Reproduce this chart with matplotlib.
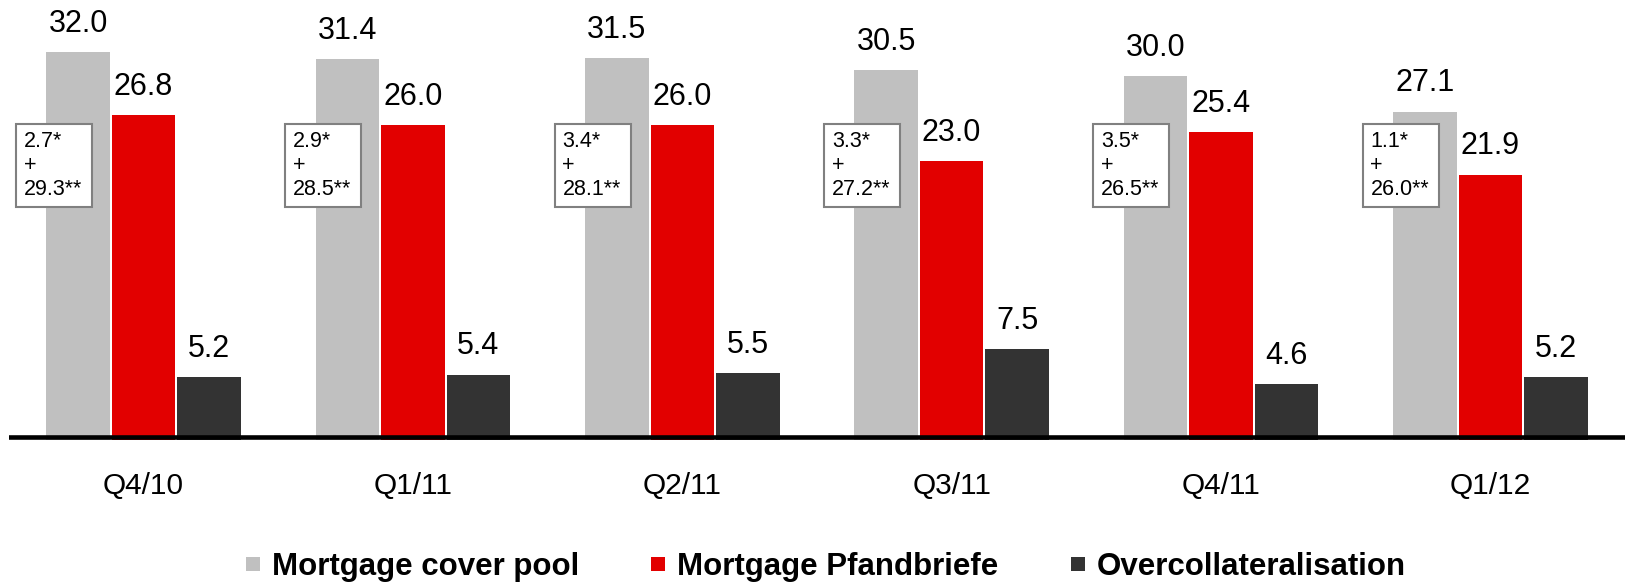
#!/usr/bin/env python3
''' mortgage cover pool vs pfandbriefe, grouped bars '''

import matplotlib
matplotlib.use('Agg')
import matplotlib.pyplot as plt
from matplotlib.lines import Line2D
from matplotlib.patches import Rectangle
import numpy as np

plt.rcParams['font.family'] = ['Liberation Sans', 'DejaVu Sans']

quarters = ['Q4/10', 'Q1/11', 'Q2/11', 'Q3/11', 'Q4/11', 'Q1/12']
cover_pool = [32.0, 31.4, 31.5, 30.5, 30.0, 27.1]
pfandbriefe = [26.8, 26.0, 26.0, 23.0, 25.4, 21.9]
overcoll = [5.2, 5.4, 5.5, 7.5, 4.6, 5.2]
pool_star = [2.7, 2.9, 3.4, 3.3, 3.5, 1.1]
pool_dstar = [29.3, 28.5, 28.1, 27.2, 26.5, 26.0]

series = [('Mortgage cover pool', cover_pool, '#c0c0c0'),
          ('Mortgage Pfandbriefe', pfandbriefe, '#e20000'),
          ('Overcollateralisation', overcoll, '#333333')]

fig = plt.figure(figsize=(16.25, 5.84), dpi=100)
ax = fig.add_axes([0.0055, 0.2466, 0.9945, 0.7534])

x = np.arange(len(quarters))
width = 0.236
step = 0.243

for i, (name, vals, col) in enumerate(series):
    pos = x + (i - 1) * step
    ax.bar(pos, vals, width=width, color=col, linewidth=0)
    for px, v in zip(pos, vals):
        ax.annotate(f'{v:.1f}', (px, v), xytext=(0, 14.5), textcoords='offset points',
                    ha='center', va='baseline', fontsize=22)

# breakdown boxes on the cover pool bars
for xi, s, d in zip(x, pool_star, pool_dstar):
    ax.add_patch(Rectangle((xi - 0.474, 19.2), 0.282, 6.85, fc='white',
                           ec='#808080', lw=1.5, zorder=4))
    ax.text(xi - 0.445, 22.65, f'{s:.1f}*\n+\n{d:.1f}**', ha='left', va='center',
            fontsize=15.5, linespacing=1.18, zorder=5)

# thick base line
ax.axhline(0.25, color='black', lw=3.3, zorder=3)

ax.set_xlim(-0.5, 5.5)
ax.set_ylim(0, 36.3)
ax.set_xticks(x)
ax.set_xticklabels(quarters, fontsize=21.5)
ax.tick_params(axis='x', length=0, pad=23)
ax.set_yticks([])
for sp in ax.spines.values():
    sp.set_visible(False)

handles = [Line2D([], [], marker='s', linestyle='none', markersize=10,
                  markerfacecolor=col, markeredgewidth=0) for _, _, col in series]
fig.legend(handles, [s[0] for s in series], loc='center', bbox_to_anchor=(0.508, 0.029),
           ncol=3, frameon=False, handlelength=0.5, handletextpad=0.35,
           columnspacing=2.3, prop={'weight': 'bold', 'size': 22.5})

fig.savefig('out.png', dpi=100)
